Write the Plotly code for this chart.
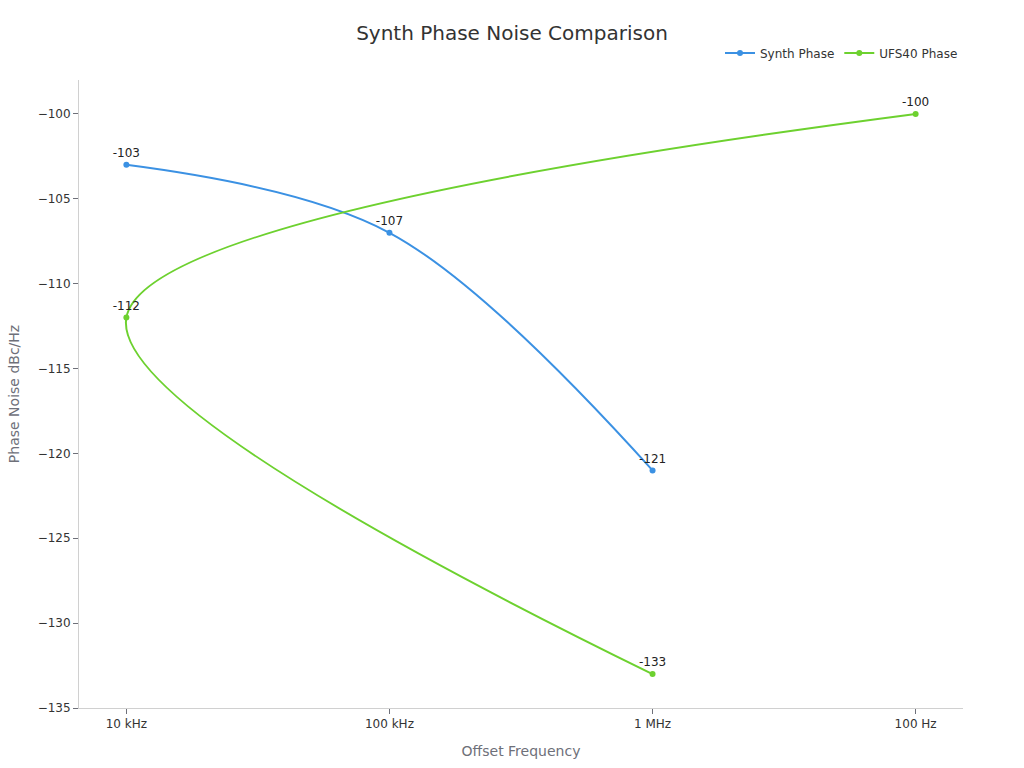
import plotly.graph_objects as go

categories = ["10 kHz", "100 kHz", "1 MHz", "100 Hz"]

synth_x = ["10 kHz", "100 kHz", "1 MHz"]
synth_y = [-103, -107, -121]

ufs_x = ["100 Hz", "10 kHz", "1 MHz"]
ufs_y = [-100, -112, -133]

y_ticks = [-135, -130, -125, -120, -115, -110, -105, -100]

font_family = "DejaVu Sans, Verdana, sans-serif"

fig = go.Figure()
fig.add_trace(go.Scatter(
    x=synth_x, y=synth_y, name="Synth Phase",
    mode="lines+markers+text",
    line=dict(color="#3b91e3", width=2, shape="spline", smoothing=1.0),
    marker=dict(size=6, color="#3b91e3"),
    text=[str(v) for v in synth_y], textposition="top center",
    textfont=dict(size=12, color="#222", family=font_family),
    cliponaxis=False,
))
fig.add_trace(go.Scatter(
    x=ufs_x, y=ufs_y, name="UFS40 Phase",
    mode="lines+markers+text",
    line=dict(color="#6dd12f", width=2, shape="spline", smoothing=1.0),
    marker=dict(size=6, color="#6dd12f"),
    text=[str(v) for v in ufs_y], textposition="top center",
    textfont=dict(size=12, color="#222", family=font_family),
    cliponaxis=False,
))

fig.update_layout(
    width=1024, height=768,
    margin=dict(l=79, r=61, t=80, b=60, autoexpand=False),
    paper_bgcolor="white", plot_bgcolor="white",
    font=dict(family=font_family, size=12, color="#333"),
    title=dict(text="Synth Phase Noise Comparison", x=0.5, xanchor="center",
               y=1 - 33 / 768, yanchor="middle",
               font=dict(size=20, color="#333", family=font_family)),
    legend=dict(orientation="h", x=1.0, xanchor="right", y=1 - 53 / 768, yanchor="middle",
                yref="container", font=dict(size=12, color="#333"),
                itemwidth=30, traceorder="normal"),
    showlegend=True,
)
fig.update_xaxes(
    type="category", categoryorder="array", categoryarray=categories,
    range=[-0.18, 3.18], automargin=False,
    showgrid=False, zeroline=False,
    showline=True, linecolor="#d0d0d0", linewidth=1,
    ticks="outside", ticklen=5, tickcolor="#6e7079",
    tickfont=dict(size=12, color="#333"),
    title=dict(text="Offset Frequency", font=dict(size=14, color="#6e7079"), standoff=15),
)
fig.update_yaxes(
    range=[-135, -98], tickvals=y_ticks, automargin=False,
    showgrid=False, zeroline=False,
    showline=True, linecolor="#d0d0d0", linewidth=1,
    ticks="outside", ticklen=5, tickcolor="#6e7079",
    tickfont=dict(size=12, color="#333"),
    title=dict(text="Phase Noise dBc/Hz", font=dict(size=14, color="#6e7079"), standoff=14),
)

fig.write_html("out.html")
